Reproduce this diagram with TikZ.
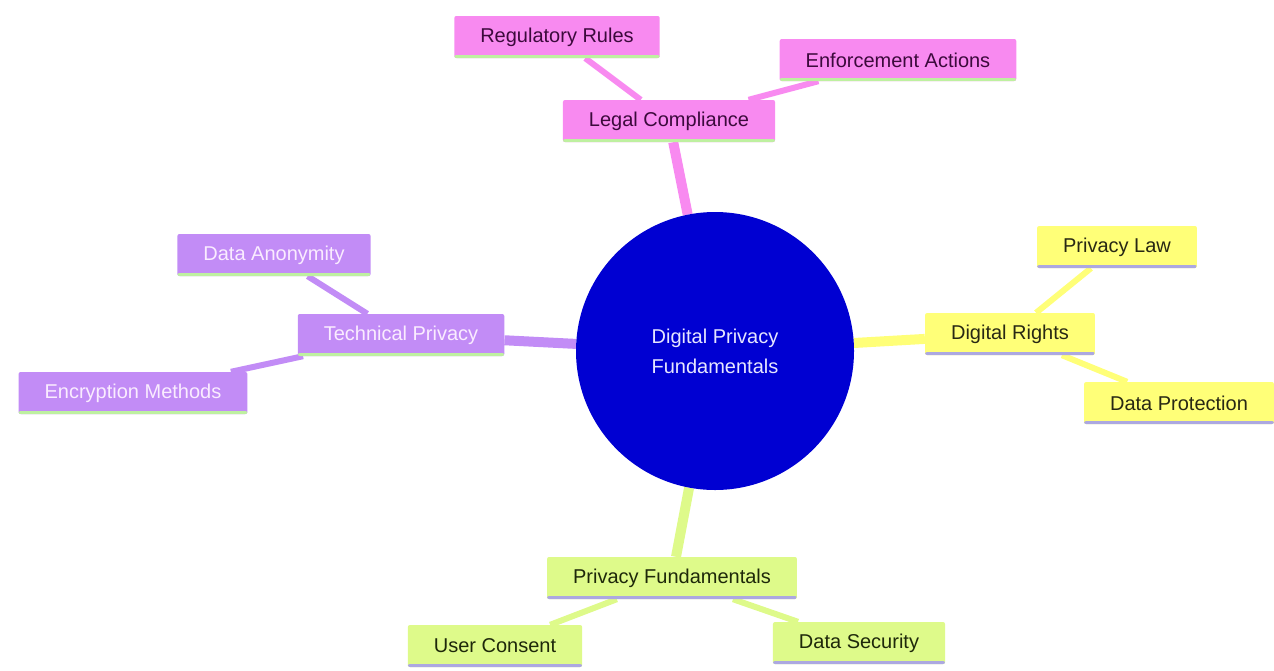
\documentclass[tikz,border=0pt]{standalone}
\usepackage{fontspec}
\setmainfont{Liberation Sans}
\usetikzlibrary{backgrounds}

\definecolor{pinkfill}{RGB}{248,138,240}
\definecolor{yellowfill}{RGB}{255,255,120}
\definecolor{purplefill}{RGB}{194,140,246}
\definecolor{greenfill}{RGB}{222,250,138}
\definecolor{hubfill}{RGB}{0,0,210}
\definecolor{greenline}{RGB}{190,240,160}
\definecolor{lavenderline}{RGB}{172,168,225}
\definecolor{pinktext}{RGB}{60,10,60}
\definecolor{yellowtext}{RGB}{40,40,20}
\definecolor{greentext}{RGB}{30,40,10}
\definecolor{purpletext}{RGB}{250,236,255}
\definecolor{hubtext}{RGB}{230,230,255}

\newcommand{\mapfont}{\fontsize{20}{30}\selectfont}

\tikzset{
  mapbox/.style={rectangle, rounded corners=2pt, minimum height=42pt,
    inner xsep=26pt, inner ysep=0pt, font=\mapfont},
  underline/.style={path picture={\fill[#1]
    ([yshift=3pt]path picture bounding box.south west) rectangle
    (path picture bounding box.south east);}},
  legalbox/.style={mapbox, fill=pinkfill, text=pinktext, underline=greenline},
  rightsbox/.style={mapbox, fill=yellowfill, text=yellowtext, underline=lavenderline},
  techbox/.style={mapbox, fill=purplefill, text=purpletext, underline=greenline},
  basicsbox/.style={mapbox, fill=greenfill, text=greentext, underline=lavenderline},
  branch/.style={line width=10pt},
  twig/.style={line width=6pt},
}

\begin{document}
\begin{tikzpicture}[x=1pt,y=-1pt]
\useasboundingbox (0,0) rectangle (1274,670);

% hub
\node[circle, fill=hubfill, text=hubtext, minimum size=278pt, align=center,
  font=\mapfont] (hub) at (715,351) {Digital Privacy\\ Fundamentals};

% legal compliance
\node[legalbox] (legal) at (669,121) {Legal Compliance};
\node[legalbox] (rules) at (557,37) {Regulatory Rules};
\node[legalbox] (enforce) at (898,60) {Enforcement Actions};

% digital rights
\node[rightsbox] (rights) at (1010,334) {Digital Rights};
\node[rightsbox] (law) at (1117,247) {Privacy Law};
\node[rightsbox] (protect) at (1179,403) {Data Protection};

% technical privacy
\node[techbox] (tech) at (401,335) {Technical Privacy};
\node[techbox] (anon) at (274,255) {Data Anonymity};
\node[techbox] (crypt) at (133,393) {Encryption Methods};

% privacy fundamentals
\node[basicsbox] (basics) at (672,578) {Privacy Fundamentals};
\node[basicsbox] (consent) at (495,646) {User Consent};
\node[basicsbox] (security) at (859,643) {Data Security};

\begin{pgfonlayer}{background}
\draw[branch, pinkfill] (hub) -- (legal);
\draw[twig, pinkfill] (legal) -- (rules);
\draw[twig, pinkfill] (legal) -- (enforce);
\draw[branch, yellowfill] (hub) -- (rights);
\draw[twig, yellowfill] (rights) -- (law);
\draw[twig, yellowfill] (rights) -- (protect);
\draw[branch, purplefill] (hub) -- (tech);
\draw[twig, purplefill] (tech) -- (anon);
\draw[twig, purplefill] (tech) -- (crypt);
\draw[branch, greenfill] (hub) -- (basics);
\draw[twig, greenfill] (basics) -- (consent);
\draw[twig, greenfill] (basics) -- (security);
\end{pgfonlayer}
\end{tikzpicture}
\end{document}
